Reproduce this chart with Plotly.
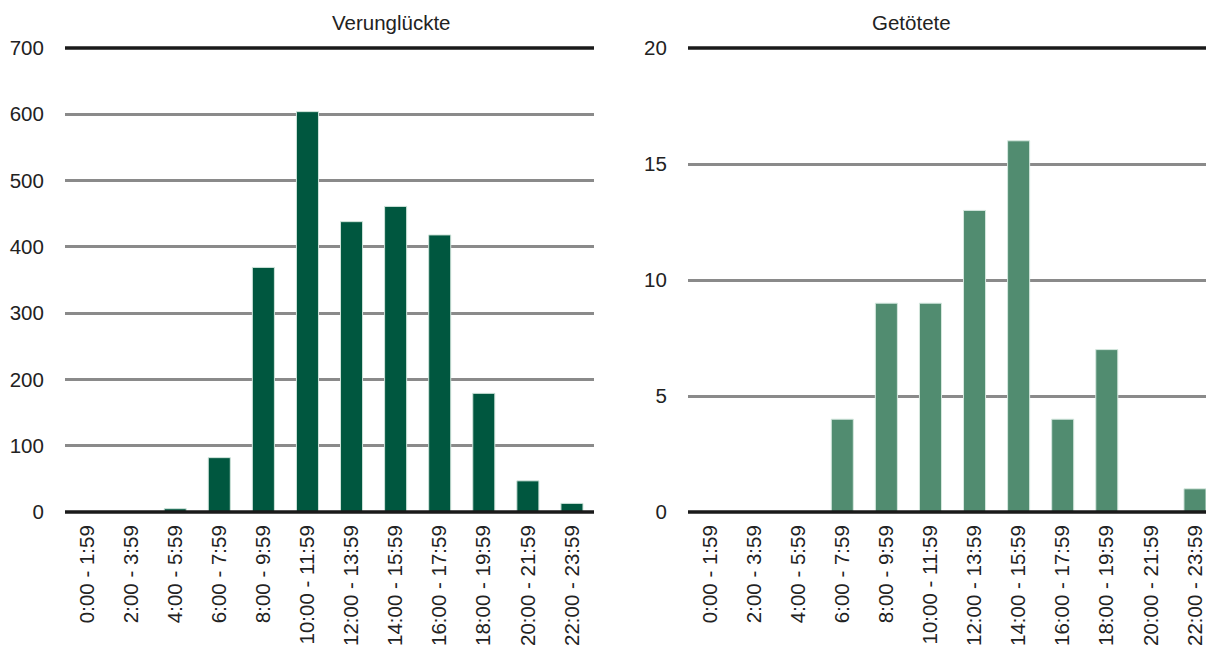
import plotly.graph_objects as go

categories = ["0:00 - 1:59", "2:00 - 3:59", "4:00 - 5:59", "6:00 - 7:59", "8:00 - 9:59",
              "10:00 - 11:59", "12:00 - 13:59", "14:00 - 15:59", "16:00 - 17:59",
              "18:00 - 19:59", "20:00 - 21:59", "22:00 - 23:59"]
verunglueckte = [0, 0, 5, 82, 369, 604, 438, 461, 418, 179, 47, 13]
getoetete = [0, 0, 0, 4, 9, 9, 13, 16, 4, 7, 0, 1]
titles = ["Verunglückte", "Getötete"]
left_ticks = [0, 100, 200, 300, 400, 500, 600, 700]
right_ticks = [0, 5, 10, 15, 20]

# page body has an 8px default margin; the figure is sized to fill the rest of the window
W, H = 1206, 645
OFF = 8
FONT = "Liberation Sans, Arial, sans-serif"
FS = 20.5

fig = go.Figure()
fig.add_trace(go.Bar(x=categories, y=verunglueckte,
                     marker=dict(color="#00573f", line=dict(color="#cfe3da", width=1)),
                     xaxis="x", yaxis="y", showlegend=False))
fig.add_trace(go.Bar(x=categories, y=getoetete,
                     marker=dict(color="#518c70", line=dict(color="#d6e8df", width=1)),
                     xaxis="x2", yaxis="y2", showlegend=False))

d1 = [(65 - OFF) / W, (594 - OFF) / W]
d2 = [(688 - OFF) / W, 1.0]
# right panel runs past the window edge in the reference; trim the visible range accordingly
cat_w = (594 - 65) / 12
right_max = -0.5 + (1214 - 688) / cat_w

common_x = dict(tickangle=-90, tickfont=dict(family=FONT, size=FS, color="#222"), showgrid=False,
                showline=False, zeroline=False, ticks="outside", ticklen=4,
                tickcolor="rgba(0,0,0,0)")
common_y = dict(tickfont=dict(family=FONT, size=FS, color="#222"), showgrid=True, gridcolor="#8a8a8a",
                gridwidth=2.5, zeroline=False, showline=False, ticks="outside", ticklen=16,
                tickcolor="rgba(0,0,0,0)")

plot_top = 48 - OFF
plot_bottom = 512 - OFF

fig.update_layout(
    width=W, height=H,
    margin=dict(l=0, r=0, t=plot_top, b=H - plot_bottom),
    paper_bgcolor="white", plot_bgcolor="white",
    bargap=0.5,
    xaxis=dict(domain=d1, anchor="y", range=[-0.5, 11.5], **common_x),
    yaxis=dict(domain=[0, 1], anchor="x", range=[0, 700], tickvals=left_ticks, **common_y),
    xaxis2=dict(domain=d2, anchor="y2", range=[-0.5, right_max], **common_x),
    yaxis2=dict(domain=[0, 1], anchor="x2", range=[0, 20], tickvals=right_ticks, **common_y),
    font=dict(family=FONT),
)

# thick black top and baseline rules (paper-referenced so they are not clipped)
for dom in (d1, d2):
    for yy in (0, 1):
        fig.add_shape(type="line", xref="paper", yref="paper", x0=dom[0], x1=dom[1], y0=yy, y1=yy,
                      line=dict(color="#1a1a1a", width=3.5), layer="above")

for t, dom in zip(titles, [d1, [(688 - OFF) / W, (1218 - OFF) / W]]):
    fig.add_annotation(text=t, x=(dom[0] + dom[1]) / 2, y=1, xref="paper", yref="paper",
                       yshift=26, showarrow=False, font=dict(family=FONT, size=FS, color="#222"),
                       yanchor="middle")

fig.write_html("out.html")
